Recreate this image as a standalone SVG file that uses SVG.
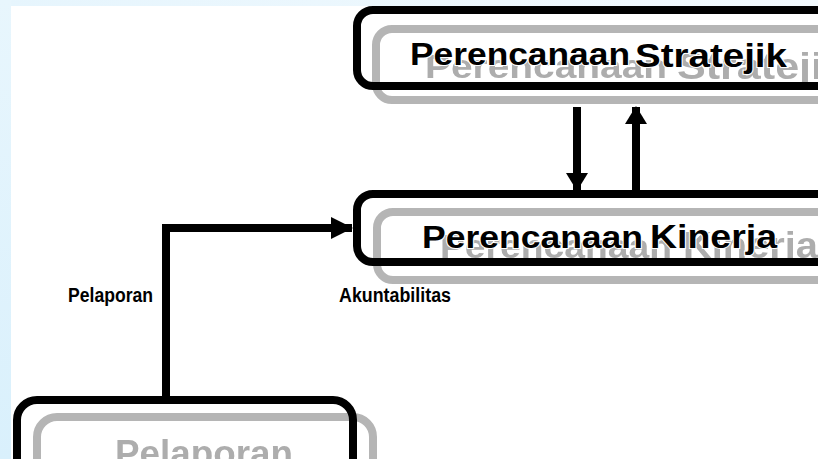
<svg xmlns="http://www.w3.org/2000/svg" width="818" height="459" viewBox="0 0 818 459">
<defs>
<linearGradient id="bgl" x1="0" y1="0" x2="0" y2="1"><stop offset="0" stop-color="#e8f6fd"/><stop offset="1" stop-color="#d9f0fc"/></linearGradient>
<linearGradient id="bgt" x1="0" y1="0" x2="1" y2="0"><stop offset="0" stop-color="#e6f5fd"/><stop offset="1" stop-color="#f3fafe"/></linearGradient>
<filter id="soft" x="-5%" y="-20%" width="110%" height="140%"><feGaussianBlur stdDeviation="0.6"/></filter>
<marker id="ah" viewBox="0 0 22 22" refX="21" refY="11" markerWidth="22" markerHeight="22" markerUnits="userSpaceOnUse" orient="auto"><path d="M0,0 L22,11 L0,22 Z" fill="#000"/></marker>
<marker id="ahv" viewBox="0 0 18 22" refX="17" refY="11" markerWidth="18" markerHeight="22" markerUnits="userSpaceOnUse" orient="auto"><path d="M0,0 L18,11 L0,22 Z" fill="#000"/></marker>
</defs>
<style>
.blk{fill:none;stroke:#000;stroke-width:8}
.gry{fill:none;stroke:#b5b5b5;stroke-width:8}
.gt{font-family:"Liberation Sans",Arial,sans-serif;font-weight:bold;fill:#adadad;filter:url(#soft)}
.bt{font-family:"Liberation Sans",Arial,sans-serif;font-weight:bold;fill:#000;stroke:#fff;stroke-width:2;paint-order:stroke}
.lbl{font-family:"Liberation Sans",Arial,sans-serif;font-weight:bold;fill:#000;font-size:20px}
.con{fill:none;stroke:#000;stroke-width:8}
</style>
<rect x="0" y="0" width="818" height="459" fill="url(#bgt)"/>
<rect x="0" y="0" width="11" height="459" fill="url(#bgl)"/>
<rect x="11" y="6" width="807" height="453" fill="#fff"/>

<g id="node-stratejik">
<rect class="gry" x="376" y="29" width="520" height="71" rx="16"/>
<text class="gt" x="425" y="78" font-size="34" textLength="242" lengthAdjust="spacingAndGlyphs">Perencanaan</text>
<text class="gt" x="677" y="79" font-size="37" textLength="170" lengthAdjust="spacingAndGlyphs">Stratejik</text>
<rect class="blk" x="357" y="10" width="520" height="76" rx="16"/>
<text class="bt" x="410" y="65" font-size="31" textLength="220" lengthAdjust="spacingAndGlyphs">Perencanaan</text>
<text class="bt" x="635" y="67" font-size="34" textLength="152" lengthAdjust="spacingAndGlyphs">Stratejik</text>
</g>

<g id="node-kinerja">
<rect class="gry" x="377" y="212" width="520" height="68" rx="16"/>
<text class="gt" x="440" y="258" font-size="34" textLength="232" lengthAdjust="spacingAndGlyphs">Perencanaan</text>
<text class="gt" x="683" y="258" font-size="37" textLength="135" lengthAdjust="spacingAndGlyphs">Kinerja</text>
<rect class="blk" x="357" y="194" width="520" height="68" rx="16"/>
<text class="bt" x="422" y="248" font-size="32" textLength="221" lengthAdjust="spacingAndGlyphs">Perencanaan</text>
<text class="bt" x="650" y="248" font-size="34" textLength="127" lengthAdjust="spacingAndGlyphs">Kinerja</text>
</g>

<g id="node-pelaporan">
<rect class="gry" x="37" y="417" width="336" height="100" rx="20"/>
<text class="gt" x="115" y="466" font-size="36" textLength="178" lengthAdjust="spacingAndGlyphs">Pelaporan</text>
<rect class="blk" x="17" y="400" width="336" height="100" rx="20"/>
</g>

<g id="connectors">
<path class="con" d="M166,397 L166,228 L352,228" marker-end="url(#ah)"/>
<path class="con" d="M577,107 L577,190" marker-end="url(#ahv)"/>
<path class="con" d="M636,192 L636,107" marker-end="url(#ahv)"/>
</g>

<g id="labels">
<text class="lbl" x="68" y="302" textLength="85" lengthAdjust="spacingAndGlyphs">Pelaporan</text>
<text class="lbl" x="339" y="302" textLength="112" lengthAdjust="spacingAndGlyphs">Akuntabilitas</text>
</g>
</svg>
